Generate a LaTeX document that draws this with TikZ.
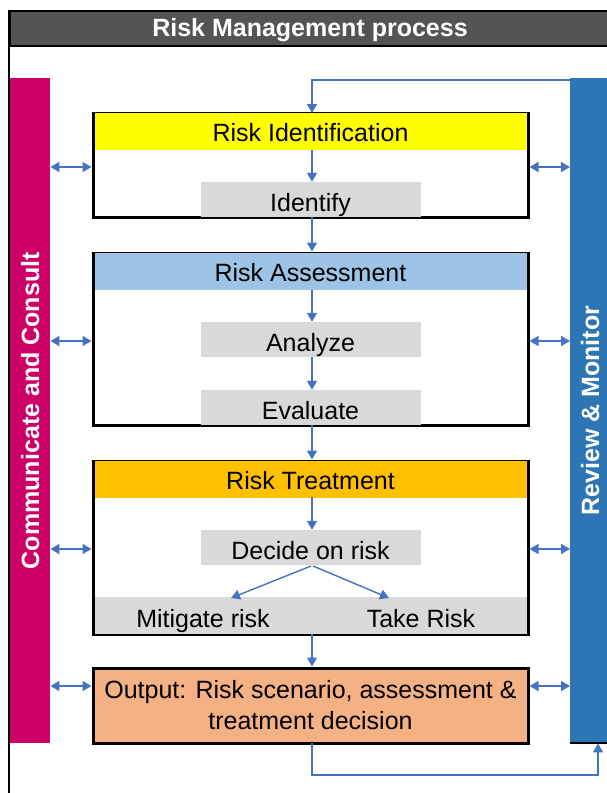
\documentclass[tikz,border=0pt]{standalone}
\usepackage{fontspec}
\setmainfont{Liberation Sans}
\usepackage{xcolor}
\usetikzlibrary{positioning, arrows.meta}

\definecolor{titlegray}{HTML}{545454}
\definecolor{consultpink}{HTML}{CC0066}
\definecolor{monitorblue}{HTML}{2E75B6}
\definecolor{flowblue}{HTML}{4472C4}
\definecolor{idyellow}{HTML}{FFFF00}
\definecolor{assesslight}{HTML}{9DC3E6}
\definecolor{treatorange}{HTML}{FFC000}
\definecolor{outsalmon}{HTML}{F4B183}
\definecolor{stepgray}{HTML}{D9D9D9}

\tikzset{
  bigtext/.style={font=\fontsize{25}{34}\selectfont},
  boldtext/.style={font=\fontsize{25}{34}\selectfont\bfseries},
  stage/.style={draw=black, line width=3pt, minimum width=435pt, inner sep=0pt},
  stagehead/.style={minimum width=432pt, minimum height=37pt, inner sep=0pt, text height=28pt, text depth=9pt},
  substep/.style={fill=stepgray, minimum width=220pt, minimum height=35pt, inner sep=0pt, text height=29pt, text depth=6pt},
  sidebar/.style={minimum width=40pt, minimum height=665pt, inner sep=0pt, text=white, boldtext},
  flow/.style={draw=flowblue, line width=1.4pt, -{Triangle[width=10pt,length=9pt]}},
  talk/.style={draw=flowblue, line width=1.4pt, {Triangle[width=10pt,length=9pt]}-{Triangle[width=10pt,length=9pt]}}
}

\begin{document}
\begin{tikzpicture}[x=1pt, y=-1pt, bigtext]
    \useasboundingbox (0,0) rectangle (606,793);
    % outer frame and title bar
    \draw [black, line width=2pt] (9,10) -- (9,800);
    \node [draw=black, line width=2pt, fill=titlegray, minimum width=620pt, minimum height=35pt,
           inner sep=0pt, text height=25pt, text depth=10pt, anchor=north west, text=white, boldtext]
          (title) at (9,10) {\hspace*{-20pt}Risk Management process};

    % side bars
    \node [sidebar, fill=consultpink, anchor=north west] (consult) at (10,78)
          {\rotatebox{90}{Communicate and Consult}};
    \node [sidebar, fill=monitorblue, anchor=north west] (monitor) at (570,78)
          {\rotatebox{90}{Review \& Monitor}};
    \draw [black, line width=2pt] (monitor.south west) -- (monitor.south east);

    % stage 1: identification
    \node [stage, minimum height=104pt] (ident) at (310.5,165) {};
    \node [stagehead, fill=idyellow, anchor=north] (identhead) at ([yshift=-1.5pt]ident.north) {Risk Identification};
    \node [substep] (identify) at (310.5,199.5) {Identify};

    % stage 2: assessment
    \node [stage, minimum height=172pt] (assess) at (310.5,339) {};
    \node [stagehead, fill=assesslight, anchor=north] (assesshead) at ([yshift=-1.5pt]assess.north) {Risk Assessment};
    \node [substep] (analyze) at (310.5,339.5) {Analyze};
    \node [substep] (evaluate) at (310.5,407.5) {Evaluate};

    % stage 3: treatment
    \node [stage, minimum height=173pt] (treat) at (310.5,547.5) {};
    \node [stagehead, fill=treatorange, anchor=north] (treathead) at ([yshift=-1.5pt]treat.north) {Risk Treatment};
    \node [substep] (decide) at (310.5,547.5) {Decide on risk};
    \node [stagehead, fill=stepgray, anchor=south] (choices) at ([yshift=1.5pt]treat.south) {};
    \node [anchor=base] (mitigate) at (203,627) {Mitigate risk};
    \node [anchor=base] (take) at (421,627) {Take Risk};

    % output
    \node [stage, fill=outsalmon, minimum height=75pt, align=center] (output) at (310.5,705.5)
          {\raisebox{-3pt}{Output: Risk scenario, assessment \&}\\treatment decision};

    % flow through the stages
    \coordinate (loopin) at (monitor.north west |- 0,80);
    \draw [flow] (loopin) -| (312,113);
    \draw [flow] (312,150) -- (identify.north -| 312,0);
    \draw [flow] (312,217) -- (assess.north -| 312,0);
    \draw [flow] (312,290) -- (analyze.north -| 312,0);
    \draw [flow] (312,357) -- (evaluate.north -| 312,0);
    \draw [flow] (312,425) -- (treat.north -| 312,0);
    \draw [flow] (312,497) -- (decide.north -| 312,0);
    \draw [flow] (311,566) -- (231,598);
    \draw [flow] (313,566) -- (389,598);
    \draw [flow] (312,634) -- (output.north -| 312,0);
    \draw [flow] (312,743) -- (312,775) -| (monitor.south -| 598,0);

    % consult and monitor links
    \foreach \ypos in {167,341,549,686} {
        \draw [talk] (consult.east |- 0,\ypos) -- (ident.west |- 0,\ypos);
        \draw [talk] (ident.east |- 0,\ypos) -- (monitor.west |- 0,\ypos);
    }
\end{tikzpicture}
\end{document}
